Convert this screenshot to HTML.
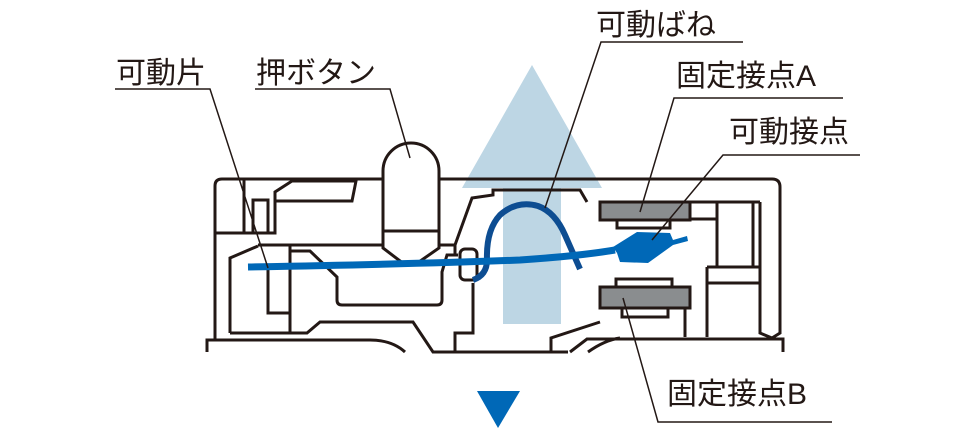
<!DOCTYPE html>
<html><head><meta charset="utf-8"><style>
html,body{margin:0;padding:0;background:#fff;}
svg{display:block;}
text{font-family:"Liberation Sans","Noto Sans CJK JP",sans-serif;font-size:30px;fill:#231815;}
</style></head><body>
<svg width="980" height="431" viewBox="0 0 980 431" xmlns="http://www.w3.org/2000/svg">
<polygon points="462,188 532,65 602,188 561,188 561,324 503,324 503,188" fill="#bdd6e4"/>
<g fill="none" stroke="#231815" stroke-width="3" stroke-linejoin="miter">
<path d="M215,340 V186 Q215,179 222,179 H383 M439,179 H772 Q780,179 780,187 V333 L772,338"/>
<path d="M383,248 V171 A28,28 0 0 1 439,171 V248 L416,264 H404 L383,248 Z M383,231 H439"/>
<path d="M244,179 V233 M215,233 H275 V192 L292,181 H356 L352,201 H275"/>
<rect x="253" y="200" width="15" height="33"/>
<path d="M258,245 H383 M439,245 H455 L472,198 L493,195 V190 H580 L587,202"/>
<path d="M230,333 V258 L258,246"/>
<path d="M268,270 V313 H290 M290,246 V333"/>
<path d="M290,251 H310 L337,277 V300 Q337,305 342,305 H437 Q442,305 442,300 V272 L447,255 H458"/>
<rect x="460" y="249" width="17" height="31" rx="5"/>
<path d="M473,283 V333 H455 V352"/>
<path d="M455,245 V255"/>
<path d="M230,333 H307 L320,322 H413 L433,352 H568 M207,352 V340 H370 Q392,340 405,352 M551,352 V338 L600,322 M570,352 L587,339 H783 V352 M588,352 Q605,340 620,338"/>
<path d="M690,202 H760 M690,219 H717 M717,202 V267 M753,202 V267 M707,267 H760 M707,283 H760 M707,267 V337 M760,202 V333 L772,338 M685,308 V337"/>
</g>
<g stroke="#231815" stroke-width="3">
<rect x="600" y="202" width="90" height="18" fill="#8a8d8f"/>
<rect x="617" y="220" width="53" height="8" fill="#fff"/>
<rect x="616" y="279" width="56" height="8" fill="#fff"/>
<rect x="600" y="287" width="90" height="21" fill="#8a8d8f"/>
<rect x="622" y="308" width="46" height="9" fill="#fff"/>
</g>
<path d="M473,280 Q487,275 487,260 Q486,230 500,215 Q517,200 538,206 Q555,212 565,235 L580,269" fill="none" stroke="#0d4d92" stroke-width="6"/>
<path d="M248,267 Q420,264 520,260 Q580,256 615,250" fill="none" stroke="#0068b7" stroke-width="7"/>
<polygon points="613,247 637,232 670,233 673,240 687,236 688,241 673,245 648,263 620,262 617,253" fill="#0068b7"/>
<g fill="none" stroke="#231815" stroke-width="1.5">
<path d="M115,89 H210 L268,268"/>
<path d="M255,89 H390 L410,158"/>
<path d="M743,42 H601 L545,208"/>
<path d="M843,98 H674 L640,212"/>
<path d="M860,155 H723 L652,240"/>
<path d="M832,422 H658 L623,298"/>
</g>
<polygon points="477,391 520,391 498,428" fill="#0068b7"/>
<text x="116" y="83">可動片</text>
<text x="256" y="83">押ボタン</text>
<text x="596" y="35">可動ばね</text>
<text x="676" y="86">固定接点A</text>
<text x="729" y="142">可動接点</text>
<text x="667" y="404">固定接点B</text>
</svg>
</body></html>
